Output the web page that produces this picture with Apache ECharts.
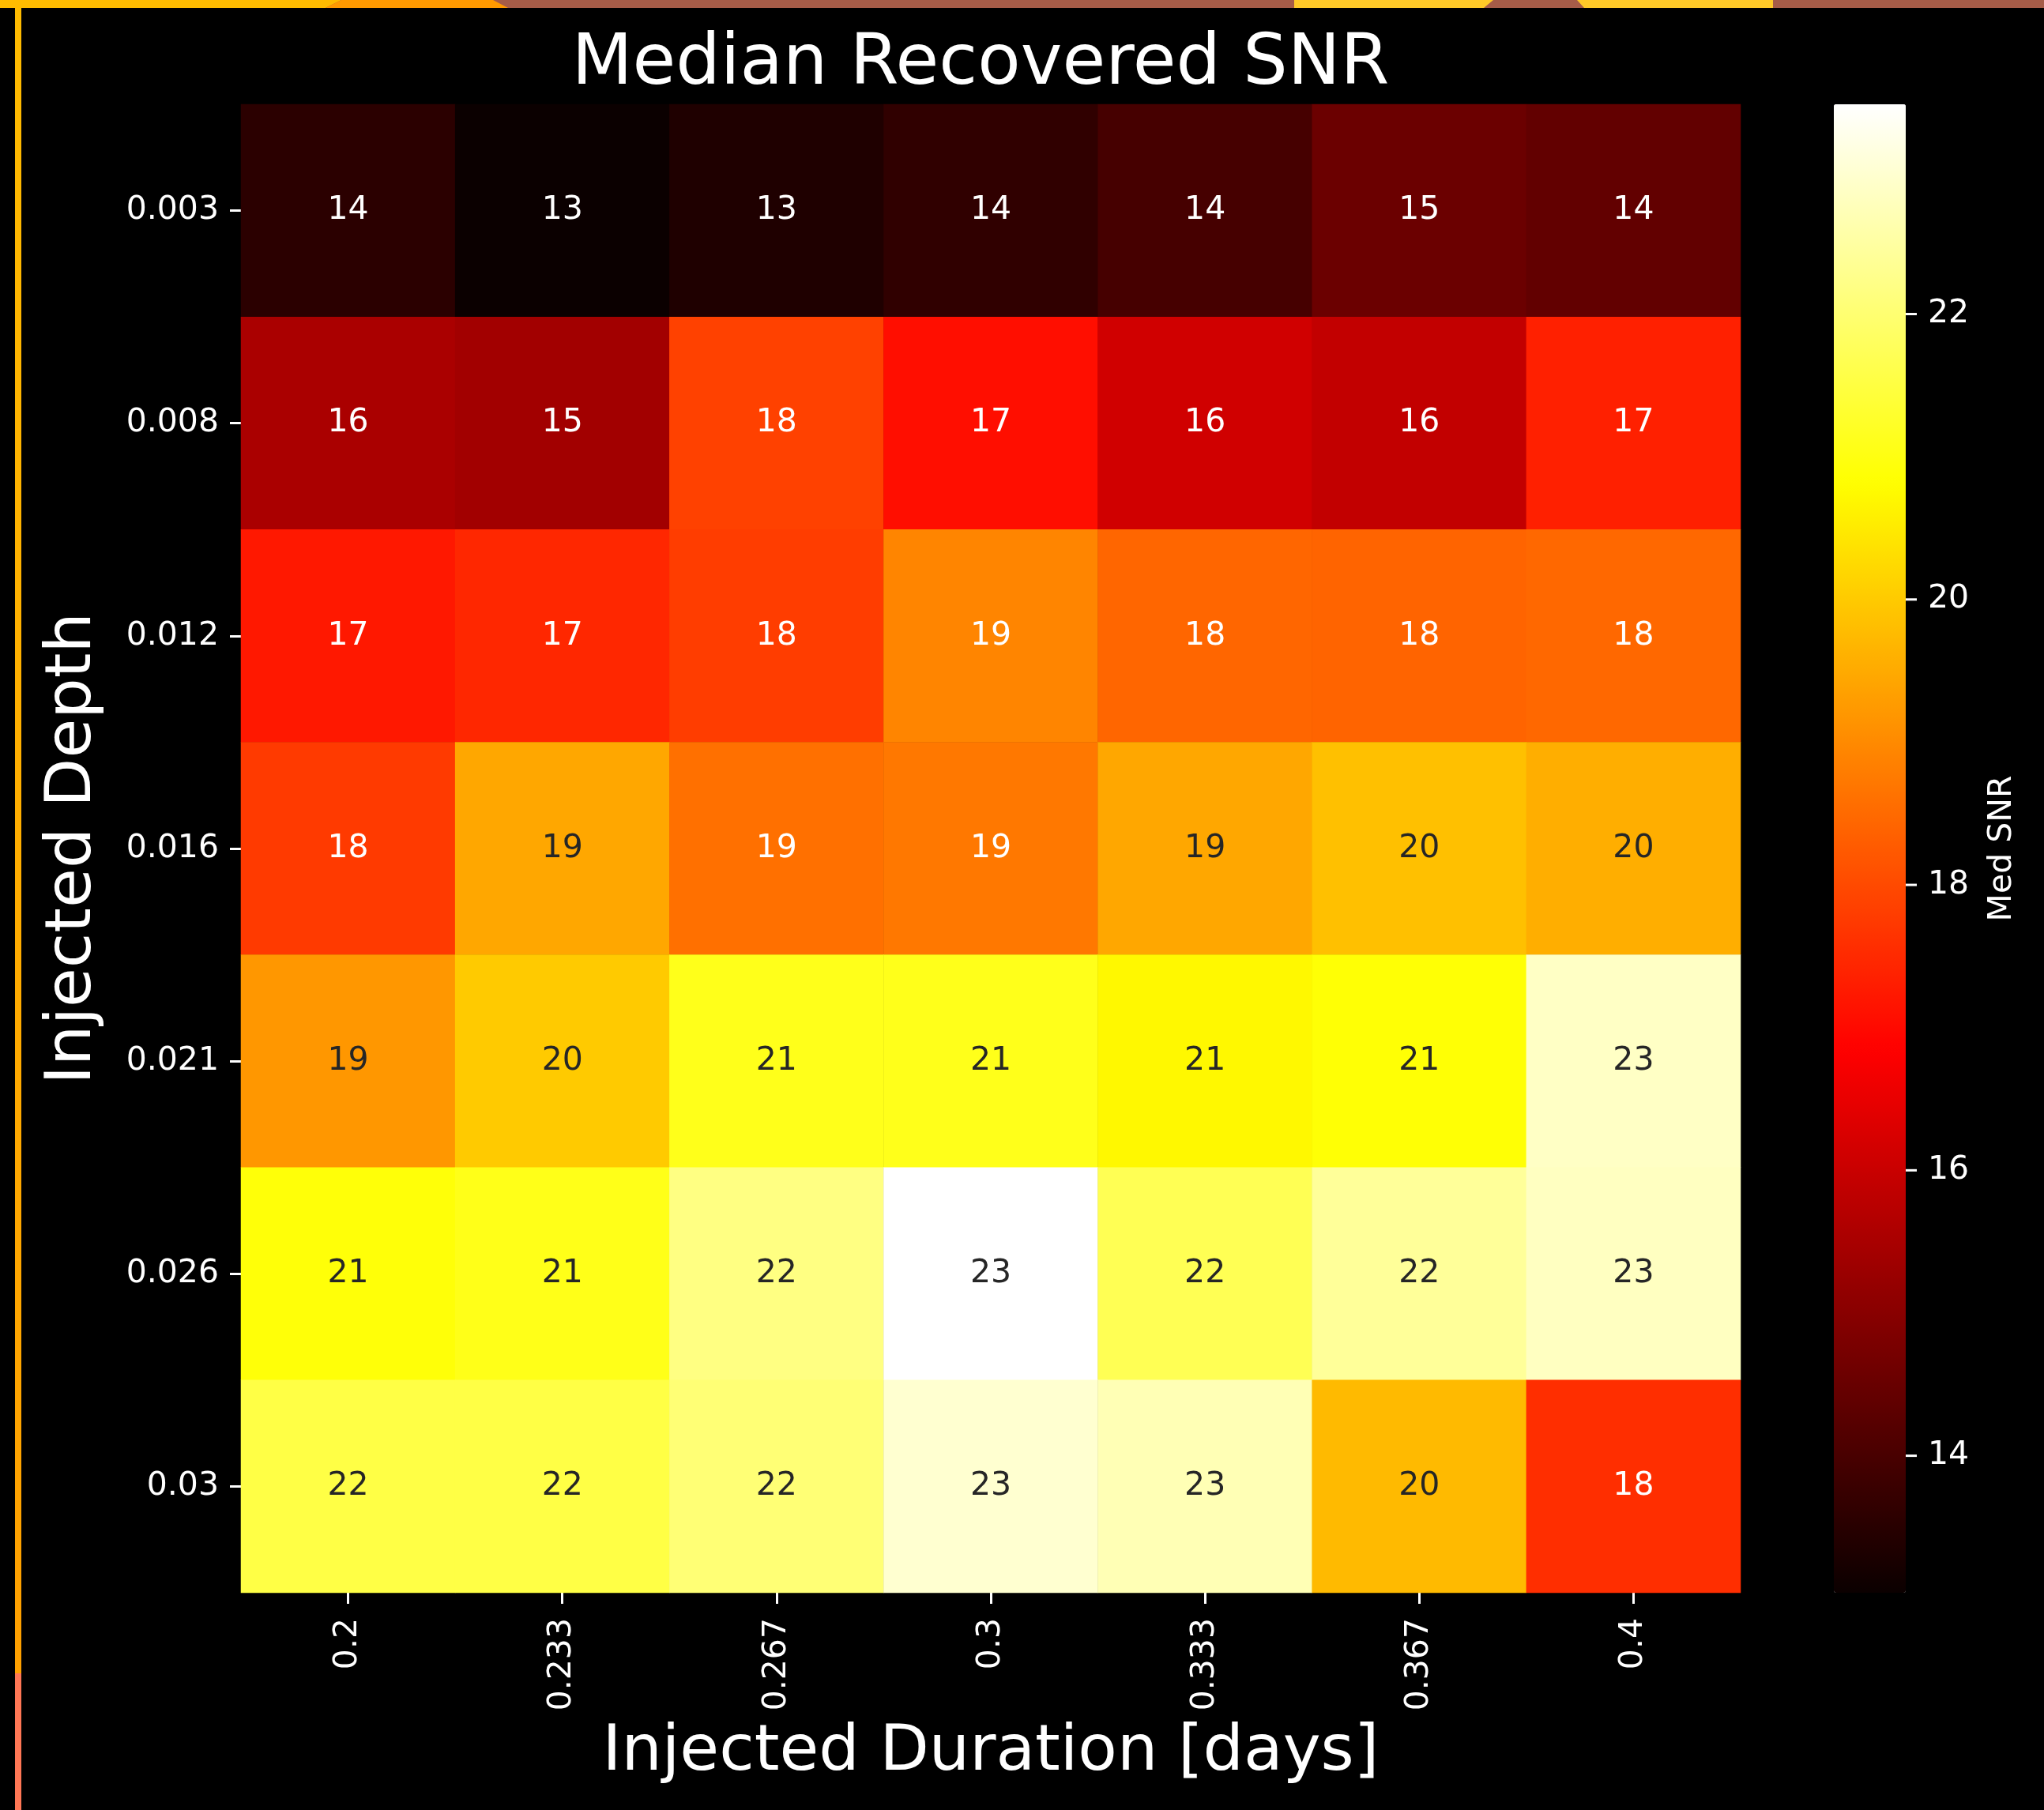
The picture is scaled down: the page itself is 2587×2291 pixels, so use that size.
<!DOCTYPE html>
<html>
<head>
<meta charset="utf-8">
<script src="https://cdn.jsdelivr.net/npm/echarts@6/dist/echarts.min.js"></script>
<style>
  html, body { margin: 0; padding: 0; background: #000; }
  #chart { width: 2587px; height: 2291px; }
</style>
</head>
<body>
<div id="chart"></div>
<script>
// ---- data ----
const durations = ['0.2', '0.233', '0.267', '0.3', '0.333', '0.367', '0.4'];
const depths = ['0.003', '0.008', '0.012', '0.016', '0.021', '0.026', '0.03'];
const rowD003 = [13.55, 13.04, 13.35, 13.62, 13.97, 14.55, 14.40];
const rowD008 = [15.52, 15.40, 17.85, 17.07, 16.11, 15.90, 17.35];
const rowD012 = [17.22, 17.45, 17.80, 18.93, 18.44, 18.41, 18.47];
const rowD016 = [17.75, 19.45, 18.60, 18.72, 19.45, 19.84, 19.56];
const rowD021 = [19.19, 20.00, 21.09, 21.09, 20.72, 20.87, 22.87];
const rowD026 = [20.90, 21.07, 22.17, 23.47, 21.70, 22.41, 22.82];
const rowD030 = [21.54, 21.54, 22.04, 22.98, 22.70, 19.75, 17.57];
const rows = [rowD003, rowD008, rowD012, rowD016, rowD021, rowD026, rowD030];
const colorbarTicks = [14, 16, 18, 20, 22];
const vMin = 13.04, vMax = 23.47;

// matplotlib 'hot' colormap
function hot(t) {
  t = Math.max(0, Math.min(1, t));
  const a = 0.365079, b = 0.746032;
  const r = t < a ? 0.0416 + (t / a) * (1 - 0.0416) : 1;
  const g = t < a ? 0 : (t < b ? (t - a) / (b - a) : 1);
  const bl = t < b ? 0 : (t - b) / (1 - b);
  return [r, g, bl];
}
function toHex(c) {
  return '#' + c.map(v => Math.round(v * 255).toString(16).padStart(2, '0')).join('');
}
function lum(c) {
  const lin = c.map(v => v <= 0.03928 ? v / 12.92 : Math.pow((v + 0.055) / 1.055, 2.4));
  return 0.2126 * lin[0] + 0.7152 * lin[1] + 0.0722 * lin[2];
}
const hotStops = [];
for (let i = 0; i <= 100; i++) hotStops.push(toHex(hot(i / 100)));

const heatData = [];
rows.forEach((row, yi) => {
  row.forEach((v, xi) => {
    const c = hot((v - vMin) / (vMax - vMin));
    heatData.push({
      value: [xi, yi, v],
      label: { color: lum(c) > 0.408 ? '#262626' : '#ffffff' }
    });
  });
});

const FONT = 'DejaVu Sans';
const chart = echarts.init(document.getElementById('chart'), null, { renderer: 'canvas' });

const option = {
  backgroundColor: '#000000',
  animation: false,
  title: {
    text: 'Median Recovered SNR',
    left: 1236,
    top: 33,
    textAlign: 'center',
    textStyle: { color: '#ffffff', fontFamily: FONT, fontSize: 89, fontWeight: 'normal' }
  },
  grid: [
    { left: 305, top: 132, width: 1898, height: 1884 },
    { left: 2321, top: 132, width: 91, height: 1884 }
  ],
  xAxis: [
    {
      type: 'category', gridIndex: 0, data: durations, position: 'bottom',
      name: 'Injected Duration [days]', nameLocation: 'middle', nameGap: 162,
      nameTextStyle: { color: '#ffffff', fontFamily: FONT, fontSize: 81 },
      axisLine: { show: false },
      axisTick: { show: true, alignWithLabel: true, length: 14, lineStyle: { color: '#ffffff', width: 3 } },
      axisLabel: { color: '#ffffff', fontFamily: FONT, fontSize: 41, rotate: 90, margin: 32, interval: 0 },
      splitLine: { show: false }
    },
    { type: 'value', gridIndex: 1, show: false, min: 0, max: 1 }
  ],
  yAxis: [
    {
      type: 'category', gridIndex: 0, data: depths, inverse: true,
      name: 'Injected Depth', nameLocation: 'middle', nameGap: 172, nameRotate: 90,
      nameTextStyle: { color: '#ffffff', fontFamily: FONT, fontSize: 81 },
      axisLine: { show: false },
      axisTick: { show: true, alignWithLabel: true, length: 14, lineStyle: { color: '#ffffff', width: 3 } },
      axisLabel: { color: '#ffffff', fontFamily: FONT, fontSize: 41, margin: 28, interval: 0 },
      splitLine: { show: false }
    },
    {
      type: 'value', gridIndex: 1, position: 'right', min: vMin, max: vMax,
      name: 'Med SNR', nameLocation: 'middle', nameGap: 102, nameRotate: 90,
      nameTextStyle: { color: '#ffffff', fontFamily: FONT, fontSize: 41 },
      axisLine: { show: false },
      axisTick: { show: false },
      axisLabel: { color: '#ffffff', fontFamily: FONT, fontSize: 41, margin: 28, customValues: colorbarTicks },
      splitLine: { show: false }
    }
  ],
  visualMap: {
    type: 'continuous',
    seriesIndex: 0,
    min: vMin, max: vMax,
    calculable: false,
    orient: 'vertical',
    left: 2321, top: 132,
    itemWidth: 91, itemHeight: 1884,
    padding: 0,
    text: null,
    showLabel: false,
    hoverLink: false,
    inRange: { color: hotStops }
  },
  series: [
    {
      type: 'heatmap',
      xAxisIndex: 0, yAxisIndex: 0,
      data: heatData,
      label: {
        show: true, fontFamily: FONT, fontSize: 41,
        formatter: p => String(Math.round(p.value[2]))
      },
      emphasis: { disabled: true }
    },
    {
      // colorbar tick marks, placed through the colorbar axis scale
      type: 'custom',
      xAxisIndex: 1, yAxisIndex: 1,
      silent: true,
      z: 10,
      data: colorbarTicks.map(v => [1, v]),
      renderItem: (params, api) => {
        const p = api.coord([api.value(0), api.value(1)]);
        return {
          type: 'line',
          shape: { x1: p[0], y1: p[1], x2: p[0] + 14, y2: p[1] },
          style: { stroke: '#ffffff', lineWidth: 3 }
        };
      }
    }
  ],
  graphic: [
    { type: 'rect', shape: { x: 0, y: 0, width: 2587, height: 10 }, style: { fill: '#A65C48' }, silent: true },
    { type: 'polygon', shape: { points: [[0, 0], [432, 0], [412, 10], [0, 10]] }, style: { fill: '#FFBB00' }, silent: true },
    { type: 'polygon', shape: { points: [[432, 0], [624, 0], [643, 10], [412, 10]] }, style: { fill: '#FF9900' }, silent: true },
    { type: 'polygon', shape: { points: [[1638, 0], [1890, 0], [1878, 10], [1638, 10]] }, style: { fill: '#FFC928' }, silent: true },
    { type: 'polygon', shape: { points: [[1996, 0], [2244, 0], [2244, 10], [2005, 10]] }, style: { fill: '#FFC928' }, silent: true },
    { type: 'rect', shape: { x: 19, y: 10, width: 8, height: 2108 },
      style: { fill: new echarts.graphic.LinearGradient(0, 0, 0, 1, [
        { offset: 0, color: '#FFBB00' }, { offset: 1, color: '#FFA000' }]) }, silent: true },
    { type: 'rect', shape: { x: 19, y: 2118, width: 8, height: 173 }, style: { fill: '#FF7755' }, silent: true }
  ]
};
chart.setOption(option);
</script>
</body>
</html>
